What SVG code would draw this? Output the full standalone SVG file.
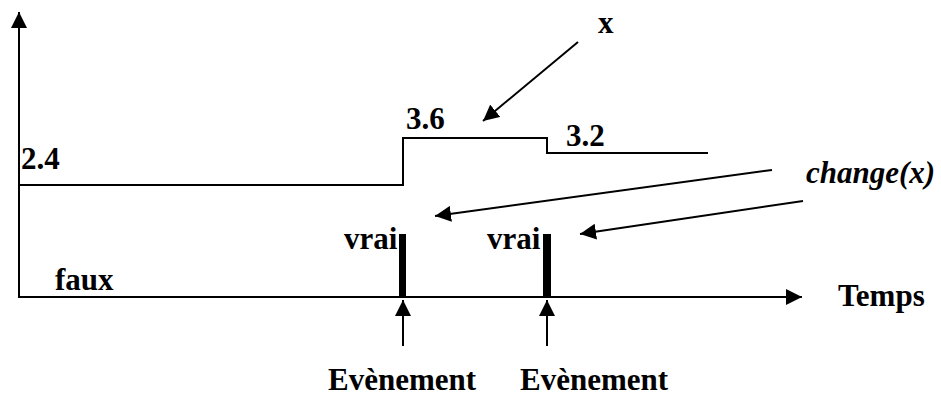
<svg xmlns="http://www.w3.org/2000/svg" width="941" height="396" viewBox="0 0 941 396">
<style>
.ln{stroke:#000;stroke-width:2;fill:none}
.bar{fill:#000}
</style>
<defs>
<marker id="ah" markerUnits="userSpaceOnUse" markerWidth="18" markerHeight="16" refX="16" refY="8" orient="auto">
<path d="M0,0 L16,8 L0,16 Z" fill="#000"/>
</marker>
</defs>
<g id="axes">
<line class="ln" x1="19" y1="298" x2="19" y2="12" marker-end="url(#ah)"/>
<line class="ln" x1="18" y1="297" x2="802" y2="297" marker-end="url(#ah)"/>
</g>
<g id="signal">
<polyline class="ln" points="19,185 403,185 403,138 547,138 547,153 708,153"/>
</g>
<g id="bars">
<rect class="bar" x="399" y="234" width="7" height="63"/>
<rect class="bar" x="543" y="234" width="8" height="63"/>
</g>
<g id="connectors">
<line class="ln" x1="578" y1="42" x2="483" y2="121" marker-end="url(#ah)"/>
<line class="ln" x1="772" y1="170" x2="435" y2="216" marker-end="url(#ah)"/>
<line class="ln" x1="803" y1="201" x2="580" y2="234" marker-end="url(#ah)"/>
<line class="ln" x1="403" y1="346" x2="403" y2="300" marker-end="url(#ah)"/>
<line class="ln" x1="547" y1="346" x2="547" y2="300" marker-end="url(#ah)"/>
</g>
<g id="labels" font-family="Liberation Serif" font-weight="bold" font-size="31" fill="#000">
<text x="21" y="169">2.4</text>
<text x="406" y="129">3.6</text>
<text x="566" y="146">3.2</text>
<text x="598" y="33">x</text>
<text font-style="italic" x="806" y="183">change(x)</text>
<text x="344" y="249">vrai</text>
<text x="487" y="249">vrai</text>
<text x="55" y="290">faux</text>
<text x="838" y="306">Temps</text>
<text x="328" y="390">Evènement</text>
<text x="520" y="390">Evènement</text>
</g>
</svg>
